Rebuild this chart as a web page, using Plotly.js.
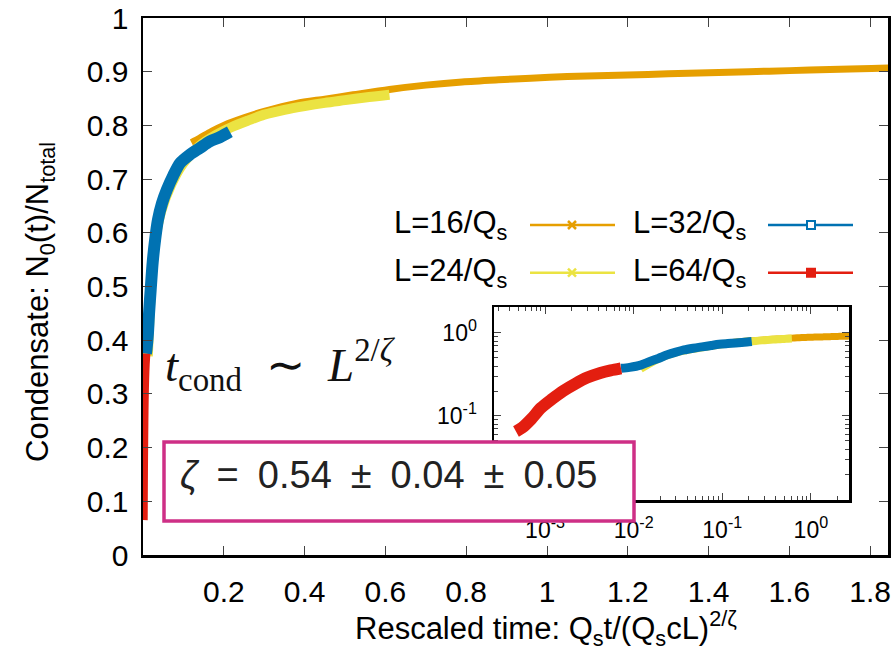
<!DOCTYPE html>
<html><head><meta charset="utf-8">
<script src="https://cdn.plot.ly/plotly-3.0.1.min.js"></script>
<style>html,body{margin:0;padding:0;background:#fff}</style>
</head><body>
<div id="chart" style="width:894px;height:651px"></div>
<script>
// ---- data ----
const seriesNames = ['L=16/Q<sub>s</sub>', 'L=24/Q<sub>s</sub>', 'L=32/Q<sub>s</sub>', 'L=64/Q<sub>s</sub>'];
const seriesColors = ['#E69F00', '#EBE342', '#0072B2', '#E31E10'];

const x16 = [0.12, 0.14, 0.17, 0.2, 0.25, 0.3, 0.38, 0.45, 0.52, 0.61, 0.7, 0.79, 0.88, 0.96, 1.05, 1.15, 1.25, 1.35, 1.45, 1.55, 1.65, 1.75, 1.85, 2.0, 2.2, 2.4, 2.6, 2.8];
const y16 = [0.768, 0.776, 0.789, 0.8, 0.814, 0.826, 0.841, 0.849, 0.857, 0.867, 0.875, 0.881, 0.885, 0.888, 0.891, 0.893, 0.895, 0.897, 0.899, 0.901, 0.903, 0.905, 0.907, 0.91, 0.912, 0.914, 0.916, 0.918];

const x24 = [0.012, 0.02, 0.03, 0.045, 0.07, 0.1, 0.14, 0.18, 0.22, 0.26, 0.3, 0.35, 0.4, 0.45, 0.5, 0.55, 0.61];
const y24 = [0.37, 0.5, 0.585, 0.64, 0.69, 0.73, 0.762, 0.782, 0.797, 0.809, 0.82, 0.829, 0.836, 0.842, 0.847, 0.852, 0.857];

const x32 = [0.0072, 0.009, 0.012, 0.015, 0.019, 0.024, 0.03, 0.037, 0.047, 0.059, 0.075, 0.092, 0.115, 0.141, 0.165, 0.19, 0.215];
const y32 = [0.375, 0.385, 0.41, 0.45, 0.494, 0.545, 0.587, 0.624, 0.655, 0.68, 0.707, 0.73, 0.745, 0.758, 0.77, 0.778, 0.788];

const x64 = [0.00047, 0.00055, 0.0007, 0.0009, 0.0012, 0.0016, 0.0022, 0.003, 0.0042, 0.0055, 0.0072];
const y64 = [0.065, 0.072, 0.092, 0.125, 0.16, 0.2, 0.245, 0.29, 0.33, 0.355, 0.375];

const mainXTicks = [0.2, 0.4, 0.6, 0.8, 1, 1.2, 1.4, 1.6, 1.8];
const mainXTickText = ['0.2', '0.4', '0.6', '0.8', '1', '1.2', '1.4', '1.6', '1.8'];
const mainYTicks = [0, 0.1, 0.2, 0.3, 0.4, 0.5, 0.6, 0.7, 0.8, 0.9, 1];
const mainYTickText = ['0', '0.1', '0.2', '0.3', '0.4', '0.5', '0.6', '0.7', '0.8', '0.9', '1'];
const insetXTicks = [0.001, 0.01, 0.1, 1];
const insetXTickText = ['10<sup>-3</sup>', '10<sup>-2</sup>', '10<sup>-1</sup>', '10<sup>0</sup>'];
const insetYTicks = [0.1, 1];
const insetYTickText = ['10<sup>-1</sup>', '10<sup>0</sup>'];
const minorMultipliers = [2, 3, 4, 5, 6, 7, 8, 9];

const xTitle = 'Rescaled time: Q<sub>s</sub>t/(Q<sub>s</sub>cL)<sup>2/ζ</sup>';
const yTitle = 'Condensate: N<sub>0</sub>(t)/N<sub>total</sub>';
const scalingText = '<i>t</i><sub>cond</sub>\u2002∼\u2002<i>L</i><sup>2/<i>ζ</i></sup>';
const zetaText = '<i>ζ</i>\u2002=\u20020.54\u2002±\u20020.04\u2002±\u20020.05';

// ---- layout geometry (pixels) ----
const W = 894, H = 651;
const PL = 143, PR = 888, PT = 18, PB = 555;
const px = v => (v - PL) / (PR - PL);
const py = v => (PB - v) / (PB - PT);

// minor tick positions for log inset (decades x multipliers)
const minorX = [], minorY = [];
[0.0001, 0.001, 0.01, 0.1, 1].forEach(d => minorMultipliers.forEach(m => minorX.push(d * m)));
[0.001, 0.01, 0.1, 1].forEach(d => minorMultipliers.forEach(m => minorY.push(d * m)));
minorY.push(0.01);

const xs = [x16, x24, x32, x64], ys = [y16, y24, y32, y64];
const mainW = [7, 10, 12, 9];
const insetW = [7, 8, 9, 12];
const traces = [];
for (let i = 0; i < 4; i++) {
  traces.push({x: xs[i], y: ys[i], xaxis: 'x', yaxis: 'y', type: 'scatter', mode: 'lines',
    line: {color: seriesColors[i], width: mainW[i], shape: 'spline', smoothing: 0.8}, showlegend: false, hoverinfo: 'skip'});
}
for (let i = 0; i < 4; i++) {
  traces.push({x: xs[i], y: ys[i], xaxis: 'x2', yaxis: 'y2', type: 'scatter', mode: 'lines',
    line: {color: seriesColors[i], width: insetW[i], shape: 'spline', smoothing: 0.8}, showlegend: false, hoverinfo: 'skip'});
}

const font = 'Liberation Sans, Arial, sans-serif';
const annotations = [];
const shapes = [];

// legend (text left of sample, as in gnuplot)
const legRows = [225, 272.7];
const legCols = [{tx: 510, l0: 530, l1: 615, m: 572}, {tx: 749, l0: 768, l1: 853, m: 811}];
const legOrder = [[0, 0], [1, 0], [0, 1], [1, 1]];
const markerKind = ['x', 'x', 'sq', 'fsq'];
for (let i = 0; i < 4; i++) {
  const [r, c] = legOrder[i];
  const yy = legRows[r], col = legCols[c];
  annotations.push({xref: 'paper', yref: 'paper', x: px(col.tx), y: py(yy), xanchor: 'right', yanchor: 'middle',
    text: seriesNames[i], showarrow: false, font: {family: font, size: 31, color: '#000'}});
  shapes.push({type: 'line', xref: 'paper', yref: 'paper', x0: px(col.l0), x1: px(col.l1), y0: py(yy), y1: py(yy),
    line: {color: seriesColors[i], width: 2.5}, layer: 'above'});
  const s = 4;
  if (markerKind[i] === 'x') {
    shapes.push({type: 'line', xref: 'paper', yref: 'paper', x0: px(col.m - s), x1: px(col.m + s), y0: py(yy - s), y1: py(yy + s), line: {color: seriesColors[i], width: 2.5}, layer: 'above'});
    shapes.push({type: 'line', xref: 'paper', yref: 'paper', x0: px(col.m - s), x1: px(col.m + s), y0: py(yy + s), y1: py(yy - s), line: {color: seriesColors[i], width: 2.5}, layer: 'above'});
  } else {
    shapes.push({type: 'rect', xref: 'paper', yref: 'paper', x0: px(col.m - s), x1: px(col.m + s), y0: py(yy + s), y1: py(yy - s),
      line: {color: seriesColors[i], width: 2}, fillcolor: markerKind[i] === 'fsq' ? seriesColors[i] : '#fff', layer: 'above'});
  }
}

// axis titles
annotations.push({xref: 'paper', yref: 'paper', x: px(546), y: py(628), xanchor: 'center', yanchor: 'middle',
  text: xTitle, showarrow: false, font: {family: font, size: 31, color: '#000'}});
annotations.push({xref: 'paper', yref: 'paper', x: px(40), y: py(302), xanchor: 'center', yanchor: 'middle',
  text: yTitle, textangle: -90, showarrow: false, font: {family: font, size: 31, color: '#000'}});

// scaling law text
annotations.push({xref: 'paper', yref: 'paper', x: px(163), y: py(365), xanchor: 'left', yanchor: 'middle',
  text: scalingText, showarrow: false, font: {family: 'Liberation Serif, Times New Roman, serif', size: 47, color: '#111'}});

// boxed exponent
shapes.push({type: 'rect', xref: 'paper', yref: 'paper', x0: px(164), x1: px(634), y0: py(521), y1: py(442),
  line: {color: '#CE2F86', width: 3.5}, fillcolor: '#ffffff', layer: 'above'});
annotations.push({xref: 'paper', yref: 'paper', x: px(178), y: py(475), xanchor: 'left', yanchor: 'middle',
  text: zetaText, showarrow: false, font: {family: font, size: 38, color: '#222'}});

const axCommon = {showgrid: false, zeroline: false, showline: true, linecolor: '#000', linewidth: 2.5,
  mirror: 'allticks', ticks: 'inside', tickcolor: '#444', tickwidth: 1};

const layout = {
  width: W, height: H,
  margin: {l: PL, r: W - PR, t: PT, b: H - PB, pad: 0},
  paper_bgcolor: '#fff', plot_bgcolor: 'rgba(0,0,0,0)',
  showlegend: false,
  xaxis: Object.assign({}, axCommon, {range: [0, (PR - PL) / 404], tickmode: 'array', tickvals: mainXTicks, ticktext: mainXTickText,
    ticklen: 9, ticklabelstandoff: 8, tickfont: {family: font, size: 30, color: '#000'}}),
  yaxis: Object.assign({}, axCommon, {range: [0, 1], tickmode: 'array', tickvals: mainYTicks, ticktext: mainYTickText,
    ticklen: 9, ticklabelstandoff: 6, tickfont: {family: font, size: 30, color: '#000'}}),
  xaxis2: Object.assign({}, axCommon, {type: 'log', range: [-3.576, 0.43], domain: [px(494), px(849)], anchor: 'y2',
    tickmode: 'array', tickvals: insetXTicks, ticktext: insetXTickText, ticklen: 7, ticklabelstandoff: 8,
    minor: {tickmode: 'array', tickvals: minorX, ticks: 'inside', ticklen: 4, tickcolor: '#444', tickwidth: 1, showgrid: false},
    tickfont: {family: font, size: 23, color: '#000'}}),
  yaxis2: Object.assign({}, axCommon, {type: 'log', range: [-2.012, 0.313], domain: [py(500), py(307)], anchor: 'x2',
    tickmode: 'array', tickvals: insetYTicks, ticktext: insetYTickText, ticklen: 7, ticklabelstandoff: 10,
    minor: {tickmode: 'array', tickvals: minorY, ticks: 'inside', ticklen: 4, tickcolor: '#444', tickwidth: 1, showgrid: false},
    tickfont: {family: font, size: 23, color: '#000'}}),
  annotations: annotations,
  shapes: shapes
};

Plotly.newPlot('chart', traces, layout, {staticPlot: true, displayModeBar: false});
</script>
</body></html>
